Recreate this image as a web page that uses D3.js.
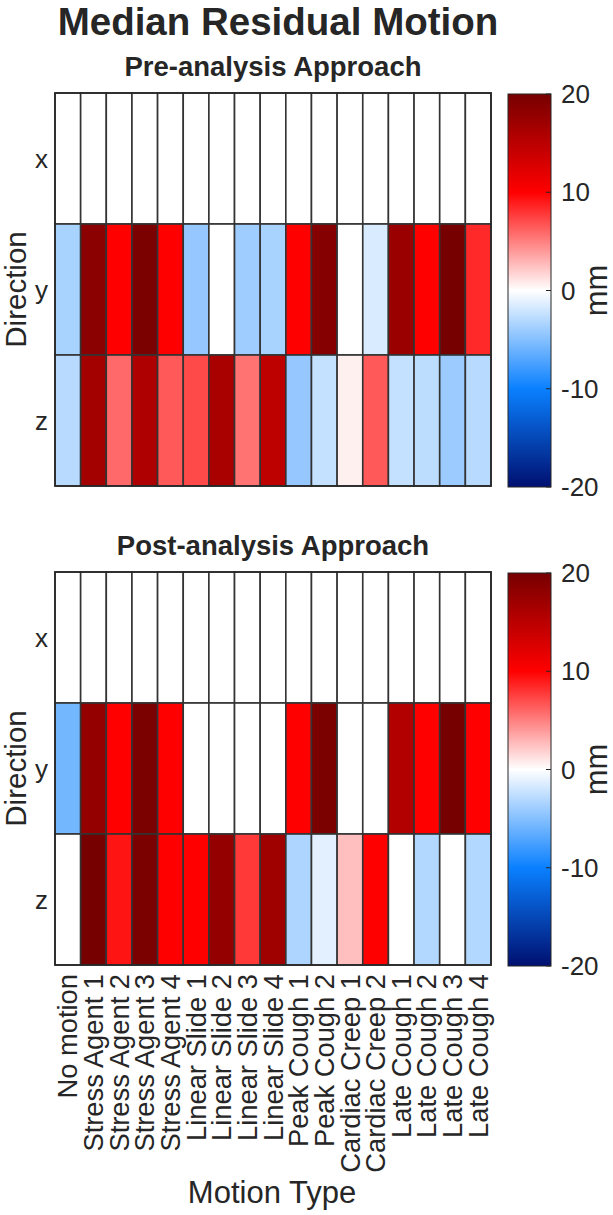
<!DOCTYPE html>
<html><head><meta charset="utf-8">
<script src="https://cdn.jsdelivr.net/npm/d3@7"></script>
<style>
html,body{margin:0;padding:0;background:#fff;}
text{font-family:"Liberation Sans",Arial,Helvetica,sans-serif;fill:#262626;}
</style></head><body>
<svg id="chart" width="613" height="1215"></svg>
<script>
const categories = ["No motion","Stress Agent 1","Stress Agent 2","Stress Agent 3","Stress Agent 4",
  "Linear Slide 1","Linear Slide 2","Linear Slide 3","Linear Slide 4","Peak Cough 1","Peak Cough 2",
  "Cardiac Creep 1","Cardiac Creep 2","Late Cough 1","Late Cough 2","Late Cough 3","Late Cough 4"];
const directions = ["x","y","z"];
const colorTicks = [20,10,0,-10,-20];
const colorStops = [-20,-10,0,10,20];

const preX = [0,0,0,0,0,0,0,0,0,0,0,0,0,0,0,0,0];
const preY = [-3.5,18.5,10,19.6,10,-4.3,0,-3.9,-3.5,10,18.9,0,-1.6,17.4,10,20,8.4];
const preZ = [-2.9,16.7,5.9,15.9,6.5,7.1,16.3,5.5,14.8,-4.3,-2.4,0.6,6.5,-2.4,-2.7,-4.1,-2.9];

const postX = [0,0,0,0,0,0,0,0,0,0,0,0,0,0,0,0,0];
const postY = [-5.7,17.8,10,19.6,10,0,0,0,0,10,19.6,0,0,15.6,10,20,10];
const postZ = [0,20,9.2,19.6,10,10,17.8,7.8,17,-3.3,-1.2,2.5,10,0,-3.1,0,-3.1];

const panels = [
  {title:"Pre-analysis Approach", rows:[preX,preY,preZ], top:93},
  {title:"Post-analysis Approach", rows:[postX,postY,postZ], top:572}
];

const svg = d3.select("#chart");
const left = 55, right = 491, plotH = 393;
const cbX = 508, cbW = 43;

const color = d3.scaleLinear()
  .domain(colorStops)
  .range(["rgb(0,16,112)","rgb(10,128,255)","rgb(255,255,255)","rgb(255,0,0)","rgb(118,0,0)"])
  .clamp(true);

const defs = svg.append("defs");
const grad = defs.append("linearGradient").attr("id","cbgrad")
  .attr("x1","0").attr("y1","1").attr("x2","0").attr("y2","0");
d3.range(0,41).forEach(i=>{
  const v = -20 + i;
  grad.append("stop").attr("offset",(i/40)).attr("stop-color",color(v));
});

svg.append("text").attr("x",278).attr("y",35).attr("text-anchor","middle")
  .style("font-size","38.5px").style("font-weight","bold").text("Median Residual Motion");

const x = d3.scaleBand().domain(categories).range([left,right]);

panels.forEach((p,pi)=>{
  const g = svg.append("g");
  const y = d3.scaleBand().domain(directions).range([p.top,p.top+plotH]);
  g.append("text").attr("x",(left+right)/2).attr("y",p.top-17).attr("text-anchor","middle")
    .style("font-size","27.5px").style("font-weight","bold").text(p.title);

  const cells = [];
  p.rows.forEach((row,ri)=>row.forEach((v,ci)=>cells.push({r:directions[ri],c:categories[ci],v})));
  g.selectAll("rect.cell").data(cells).enter().append("rect").attr("class","cell")
    .attr("x",d=>x(d.c)).attr("y",d=>y(d.r))
    .attr("width",x.bandwidth()).attr("height",y.bandwidth())
    .attr("fill",d=>color(d.v))
    .attr("stroke","#333").attr("stroke-width",1.6);

  g.append("rect").attr("x",left).attr("y",p.top).attr("width",right-left).attr("height",plotH)
    .attr("fill","none").attr("stroke","#262626").attr("stroke-width",1.6);

  g.selectAll("text.yt").data(directions).enter().append("text").attr("class","yt")
    .attr("x",left-7).attr("y",d=>y(d)+y.bandwidth()/2).attr("dy","0.35em")
    .attr("text-anchor","end").style("font-size","26px").text(d=>d);

  g.append("text").attr("transform",`translate(26,${p.top+plotH/2}) rotate(-90)`)
    .attr("text-anchor","middle").style("font-size","29.5px").text("Direction");

  const cbTop = p.top+1, cbBot = p.top+plotH+1;
  const cs = d3.scaleLinear().domain([-20,20]).range([cbBot,cbTop]);
  g.append("rect").attr("x",cbX).attr("y",cbTop).attr("width",cbW).attr("height",cbBot-cbTop)
    .attr("fill","url(#cbgrad)").attr("stroke","#262626").attr("stroke-width",1);
  g.selectAll("line.ct").data(colorTicks).enter().append("line").attr("class","ct")
    .attr("x1",cbX+cbW-5).attr("x2",cbX+cbW).attr("y1",d=>cs(d)).attr("y2",d=>cs(d))
    .attr("stroke","#262626").attr("stroke-width",1);
  g.selectAll("text.ct").data(colorTicks).enter().append("text").attr("class","ct")
    .attr("x",cbX+cbW+10).attr("y",d=>cs(d)).attr("dy","0.35em")
    .style("font-size","26px").text(d=>d);
  g.append("text").attr("transform",`translate(607,${(cbTop+cbBot)/2}) rotate(-90)`)
    .attr("text-anchor","middle").style("font-size","31px").text("mm");
});

const bottom = panels[1].top + plotH;
svg.selectAll("text.xt").data(categories).enter().append("text").attr("class","xt")
  .attr("transform",d=>`translate(${x(d)+x.bandwidth()/2},${bottom+9}) rotate(-90)`)
  .attr("dy","0.35em").attr("text-anchor","end").style("font-size","27.3px").text(d=>d);

svg.append("text").attr("x",272).attr("y",1203).attr("text-anchor","middle")
  .style("font-size","31px").text("Motion Type");
</script>
</body></html>
